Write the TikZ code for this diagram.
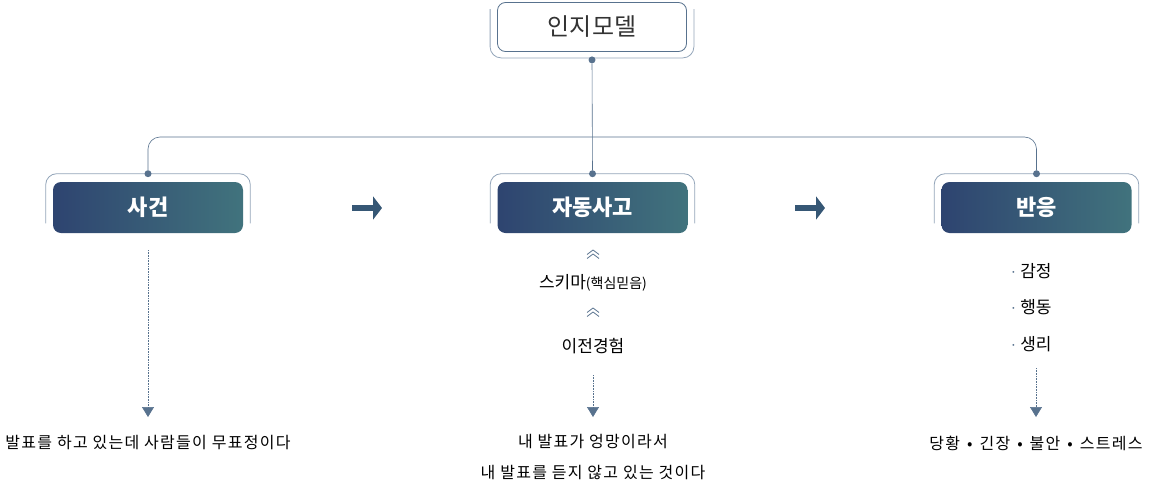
\documentclass[tikz,border=0pt]{standalone}
\usepackage{fontspec}
\setmainfont{Noto Sans CJK KR}
\newfontfamily\hand{Noto Sans CJK KR}[LetterSpace=8]
\usepackage{xcolor}
\usepackage{tikz}
\usetikzlibrary{arrows.meta,positioning,calc}

\definecolor{boxleft}{HTML}{2E4470}
\definecolor{boxright}{HTML}{41737D}
\definecolor{linegray}{HTML}{58728E}
\definecolor{bracketgray}{HTML}{93A5B9}
\definecolor{textgray}{HTML}{333333}

\begin{document}
\begin{tikzpicture}[x=1pt, y=-1pt, semithick]
	\tikzstyle{model}=[rounded corners=8pt, minimum width=189pt, minimum height=49pt, fill=white, draw=linegray, thick, text=textgray, font=\fontsize{24}{28}\selectfont]
	\tikzstyle{stage}=[rounded corners=8pt, minimum width=190pt, minimum height=51pt, left color=boxleft, right color=boxright, text=white, font=\bfseries\fontsize{22}{26}\selectfont]
	\tikzstyle{bracket}=[draw=bracketgray, thick, rounded corners=11pt]
	\tikzstyle{dot}=[circle, fill=linegray, inner sep=0pt, minimum size=7pt]
	\tikzstyle{item}=[font=\fontsize{17}{20}\selectfont, text=black]
	\tikzstyle{note}=[font=\hand\fontsize{16}{31}\selectfont, align=center, text=black]
	\tikzstyle{down}=[densely dotted, draw=linegray, -{Triangle[width=12pt,length=10pt]}]
	\tikzstyle{next}=[draw=boxleft!60!boxright, line width=6pt, -{Triangle[width=23pt,length=9pt]}]
	\useasboundingbox (0,0) rectangle (1149,490);

	% boxes
	\node[model] (M) at (592,27) {인지모델};
	\node[stage] (E) at (148,207.5) {사건};
	\node[stage] (T) at (592.5,207.5) {자동사고};
	\node[stage] (R) at (1036.5,207.5) {반응};

	% brackets
	\draw[bracket] ($(M.north west)+(-7,7)$) -- ($(M.south west)+(-7,6)$) -- ($(M.south east)+(7,6)$) -- ($(M.north east)+(7,7)$);
	\foreach \b in {E,T,R}
	\draw[bracket] ($(\b.south west)+(-7,-10)$) -- ($(\b.north west)+(-7,-8)$) -- ($(\b.north east)+(7,-8)$) -- ($(\b.south east)+(7,-10)$);

	% tree
	\node[dot] (m0) at ($(M.south)+(0,8)$) {};
	\node[dot] (e0) at ($(E.north)+(0,-8)$) {};
	\node[dot] (t0) at ($(T.north)+(0,-8)$) {};
	\node[dot] (r0) at ($(R.north)+(0,-8)$) {};
	\coordinate (hub) at (592.5,137);
	\draw[linegray] (m0) -- (t0);
	\draw[linegray, rounded corners=12pt] (e0) |- (hub) -| (r0);

	% arrows between stages
	\coordinate (a1) at (352,208);
	\coordinate (a2) at (382,208);
	\coordinate (b1) at (795,208);
	\coordinate (b2) at (825,208);
	\draw[next] (a1) -- (a2);
	\draw[next] (b1) -- (b2);

	% schema
	\foreach \y in {254,312}
	\foreach \d in {-2,2}
	\draw[linegray, thick] (587,\y+\d+2.5) -- (593,\y+\d-2) -- (599,\y+\d+2.5);
	\node[item] (S) at (593,283) {스키마{\fontsize{14}{17}\selectfont(핵심믿음)}};
	\node[item] (P) at (593,346) {이전경험};

	% reactions
	\node[item, anchor=west] (R1) at (1006,271) {\textcolor{linegray}{\fontsize{14}{12}\selectfont·}\,감정};
	\node[item, anchor=west] (R2) at (1006,307) {\textcolor{linegray}{\fontsize{14}{12}\selectfont·}\,행동};
	\node[item, anchor=west] (R3) at (1006,344) {\textcolor{linegray}{\fontsize{14}{12}\selectfont·}\,생리};

	% examples
	\node[note] (N1) at (148,443) {발표를 하고 있는데 사람들이 무표정이다};
	\node[note] (N2) at (593,457) {내 발표가 엉망이라서\\내 발표를 듣지 않고 있는 것이다};
	\node[note] (N3) at (1036,443) {당황\hspace{7pt}•\hspace{7pt}긴장\hspace{7pt}•\hspace{7pt}불안\hspace{7pt}•\hspace{7pt}스트레스};

	\coordinate (d1) at (148,250);
	\coordinate (d2) at (593,375);
	\coordinate (d3) at (1036,368);
	\draw[down] (d1) -- (148,417);
	\draw[down] (d2) -- (593,417);
	\draw[down] (d3) -- (1036,417);
\end{tikzpicture}
\end{document}
